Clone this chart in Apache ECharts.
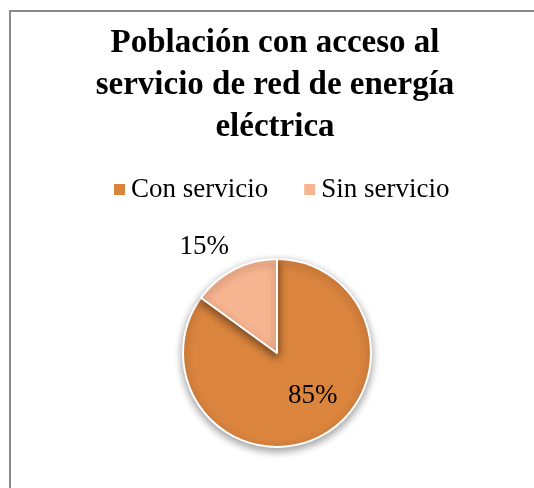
<!DOCTYPE html>
<html><head><meta charset="utf-8">
<script src="https://cdn.jsdelivr.net/npm/echarts@6/dist/echarts.min.js"></script>
<style>html,body{margin:0;padding:0;background:#fff}#c{width:534px;height:488px}</style>
</head><body><div id="c"></div>
<script>
const categories = ['Con servicio', 'Sin servicio'];
const values = [85, 15];
const colors = ['#DA843E', '#F7B490'];
const labelOffsets = [[13, -2], [-50, -62]];

const chart = echarts.init(document.getElementById('c'));
chart.setOption({
  animation: false,
  graphic: [{
    type: 'rect', shape: {x: 10, y: 11, width: 700, height: 700},
    style: {fill: 'none', stroke: '#8a8a8a', lineWidth: 2}, silent: true
  }],
  title: {
    text: 'Población con acceso al\nservicio de red de energía\neléctrica',
    left: 270, textAlign: 'center', top: 17,
    textStyle: {fontFamily: 'Liberation Serif', fontWeight: 'bold', fontSize: 33, lineHeight: 42, color: '#000'}
  },
  legend: {
    data: categories, top: 171, left: 107,
    itemWidth: 13, itemHeight: 13, itemGap: 34, icon: 'rect',
    textStyle: {fontFamily: 'Liberation Serif', fontSize: 27, color: '#000'}
  },
  series: [{
    type: 'pie', center: [277, 353], radius: 94, startAngle: 90,
    clockwise: true,
    itemStyle: {borderColor: '#fff', borderWidth: 2, shadowBlur: 8, shadowOffsetY: 3, shadowColor: 'rgba(0,0,0,0.4)'},
    label: {show: true, position: 'inside', formatter: '{d}%',
      fontFamily: 'Liberation Serif', fontSize: 27, color: '#000'},
    labelLine: {show: false},
    data: categories.map((n, i) => ({
      name: n, value: values[i],
      itemStyle: {color: colors[i]},
      label: {offset: labelOffsets[i]}
    }))
  }]
});
</script></body></html>
